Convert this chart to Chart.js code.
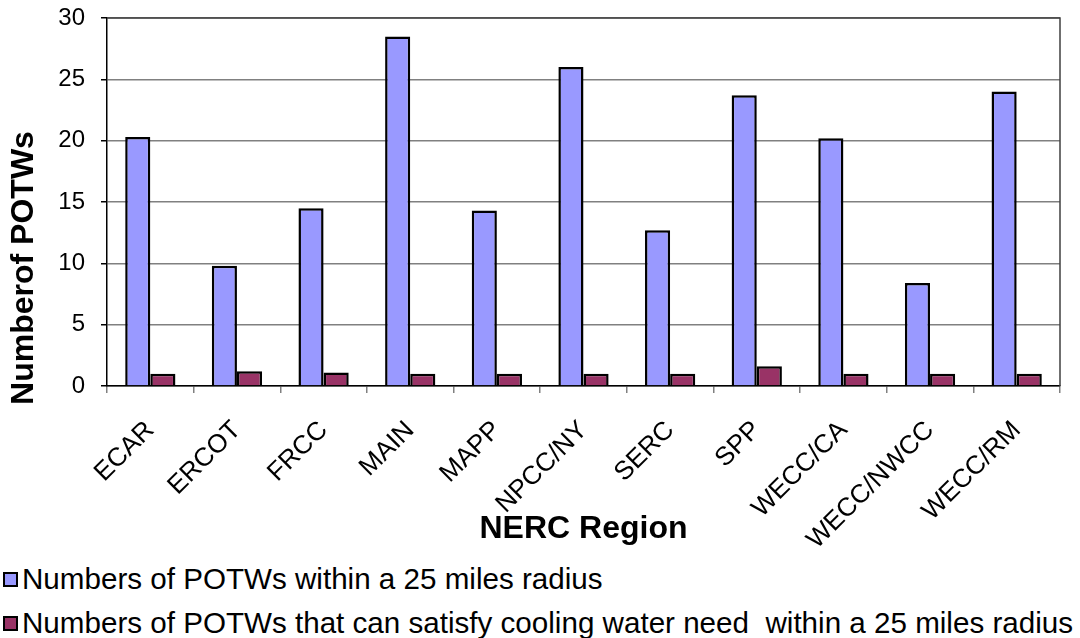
<!DOCTYPE html>
<html>
<head>
<meta charset="utf-8">
<title>POTWs by NERC Region</title>
<script src="https://cdn.jsdelivr.net/npm/chart.js@4.4.1/dist/chart.umd.min.js"></script>
<style>
  html, body { margin: 0; padding: 0; background: #fff; }
  #wrap { position: relative; width: 1080px; height: 638px; font-family: "Liberation Sans", Arial, sans-serif; }
  #chartBox { position: absolute; left: 0; top: 0; width: 1080px; height: 552px; }
  #legend { position: absolute; left: 0; top: 557px; margin: 0; padding: 0; list-style: none; }
  #legend li { display: flex; align-items: center; height: 44px; font-size: 29.6px; color: #000; white-space: pre; }
  #legend i { display: inline-block; width: 11px; height: 11px; border: 2px solid #000; margin: 0 4px 0 3px; }
</style>
</head>
<body>
<div id="wrap">
  <div id="chartBox"><canvas id="potwChart"></canvas></div>
  <ul id="legend"></ul>
</div>
<script>
const REGIONS = ["ECAR", "ERCOT", "FRCC", "MAIN", "MAPP", "NPCC/NY", "SERC", "SPP", "WECC/CA", "WECC/NWCC", "WECC/RM"];
const POTWS_25MI = [20.3, 9.8, 14.5, 28.5, 14.3, 26.0, 12.7, 23.7, 20.2, 8.4, 24.0];
const POTWS_COOLING = [1.0, 1.2, 1.1, 1.0, 1.0, 1.0, 1.0, 1.6, 1.0, 1.0, 1.0];
const Y_TICKS = [0, 5, 10, 15, 20, 25, 30];
const SERIES_LABELS = [
  "Numbers of POTWs within a 25 miles radius",
  "Numbers of POTWs that can satisfy cooling water need  within a 25 miles radius",
];
const SERIES_COLORS = ["#9999ff", "#993366"];

const FONT = "'Liberation Sans', Arial, sans-serif";

// top + right edge of the plot box
const frameLines = {
  id: "frameLines",
  afterDraw(chart) {
    const { ctx, chartArea: a } = chart;
    ctx.save();
    ctx.strokeStyle = "#404040";
    ctx.lineWidth = 1.5;
    ctx.beginPath();
    ctx.moveTo(a.left, a.top);
    ctx.lineTo(a.right, a.top);
    ctx.lineTo(a.right, a.bottom);
    ctx.stroke();
    ctx.restore();
  },
};

// y title sits lower than the plot centre in the original
const yTitle = {
  id: "yTitle",
  afterDraw(chart) {
    const { ctx, chartArea: a } = chart;
    ctx.save();
    ctx.translate(a.left - 83, (a.top + a.bottom) / 2 + 66);
    ctx.rotate(-Math.PI / 2);
    ctx.font = `bold 32px ${FONT}`;
    ctx.fillStyle = "#000";
    ctx.textAlign = "center";
    ctx.textBaseline = "middle";
    ctx.fillText("Numberof POTWs", 0, 0);
    ctx.restore();
  },
};

function renderLegend() {
  document.getElementById("legend").innerHTML = SERIES_LABELS.map((label, i) =>
    `<li><i style="background:${SERIES_COLORS[i]}"></i>${label}</li>`
  ).join("");
}

function renderChart() {
  new Chart(document.getElementById("potwChart"), {
    type: "bar",
    data: {
      labels: REGIONS,
      datasets: [
        { label: SERIES_LABELS[0], data: POTWS_25MI, backgroundColor: SERIES_COLORS[0], borderColor: "#000", borderWidth: 2.5 },
        { label: SERIES_LABELS[1], data: POTWS_COOLING, backgroundColor: SERIES_COLORS[1], borderColor: "#000", borderWidth: 2.5 },
      ],
    },
    options: {
      responsive: true,
      maintainAspectRatio: false,
      animation: false,
      layout: { padding: { top: 18, right: 20, left: 0, bottom: 0 } },
      datasets: { bar: { categoryPercentage: 0.58, barPercentage: 1.0 } },
      plugins: { legend: { display: false }, tooltip: { enabled: false } },
      scales: {
        x: {
          afterFit(scale) { scale.height = 166; },
          grid: { drawOnChartArea: false, offset: true, tickLength: 7, color: "#808080", lineWidth: 1.5 },
          border: { color: "#000", width: 1.5 },
          ticks: { color: "#000", font: { family: FONT, size: 26 }, minRotation: 45, maxRotation: 45, padding: 22, autoSkip: false },
          title: { display: true, text: "NERC Region", color: "#000", font: { family: FONT, size: 32, weight: "bold" }, padding: { top: 0, bottom: 4 } },
        },
        y: {
          min: 0,
          max: 30,
          afterFit(scale) {
            scale.width = 107;
            // tick padding would otherwise push the plot top down
            scale.paddingTop = 0;
            scale.paddingBottom = 0;
          },
          afterBuildTicks(scale) { scale.ticks = Y_TICKS.map((value) => ({ value })); },
          grid: { color: "#808080", lineWidth: 1.5, tickColor: "#000", tickLength: 6 },
          border: { color: "#000", width: 1.5 },
          ticks: { color: "#000", font: { family: FONT, size: 24 }, padding: 16 },
        },
      },
    },
    plugins: [frameLines, yTitle],
  });
}

document.addEventListener("DOMContentLoaded", function() {
  renderLegend();
  renderChart();
});
</script>
</body>
</html>
